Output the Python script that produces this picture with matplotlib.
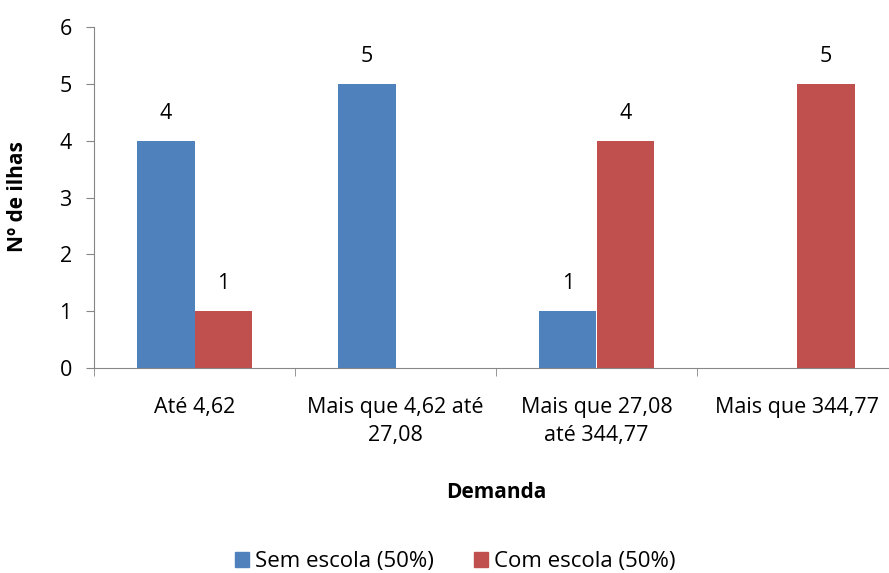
import numpy as np
import matplotlib.pyplot as plt
from matplotlib.patches import Patch

plt.rcParams['font.family'] = ['Open Sans', 'DejaVu Sans']

categorias = ['Até 4,62', 'Mais que 4,62 até\n27,08', 'Mais que 27,08\naté 344,77', 'Mais que 344,77']
sem_escola = [4, 5, 1, 0]
com_escola = [1, 0, 4, 5]
series = ['Sem escola (50%)', 'Com escola (50%)']
cores = ['#4F81BD', '#C0504D']
eixo_cor = '#868686'
fs = 15.5

fig = plt.figure(figsize=(8.89, 5.73), dpi=100)
ax = fig.add_axes([94 / 889, 205 / 573, 804 / 889, 341 / 573])

x = np.arange(len(categorias))
w = 0.285
for vals, off, cor in [(sem_escola, -w / 2, cores[0]), (com_escola, w / 2, cores[1])]:
    bars = ax.bar(x + off, vals, width=w, color=cor, edgecolor='none')
    for b, v in zip(bars, vals):
        if v:
            ax.annotate(str(v), (b.get_x() + b.get_width() / 2, v), xytext=(0, 12),
                        textcoords='offset points', ha='center', va='bottom', fontsize=fs)

ax.set_xlim(-0.5, len(categorias) - 0.5)
ax.set_ylim(0, 6)
ax.set_yticks(range(7))

for s in ['top', 'right']:
    ax.spines[s].set_visible(False)
for s in ['left', 'bottom']:
    ax.spines[s].set_color(eixo_cor)

ax.set_xticks(x)
ax.set_xticklabels(categorias, fontsize=fs, linespacing=1.4, va='top')
ax.tick_params(axis='x', which='major', length=0, pad=21)
ax.set_xticks(np.arange(-0.5, len(categorias)), minor=True)
ax.tick_params(axis='x', which='minor', length=6, color=eixo_cor)
ax.tick_params(axis='y', length=6, color=eixo_cor, labelsize=fs, pad=10)

fig.text(18 / 889, 1 - 197 / 573, 'Nº de ilhas', rotation=90, ha='center', va='center',
         fontsize=15, fontweight='bold')
fig.text(496 / 889, 1 - 492 / 573, 'Demanda', ha='center', va='center',
         fontsize=15, fontweight='bold')

handles = [Patch(color=c, label=s) for c, s in zip(cores, series)]
fig.legend(handles=handles, loc='center', bbox_to_anchor=(455 / 889, 1 - 562 / 573),
           ncol=2, frameon=False, fontsize=16, handlelength=0.65, handleheight=0.65,
           handletextpad=0.25, columnspacing=1.8, borderpad=0)

fig.savefig('out.png', dpi=100)
